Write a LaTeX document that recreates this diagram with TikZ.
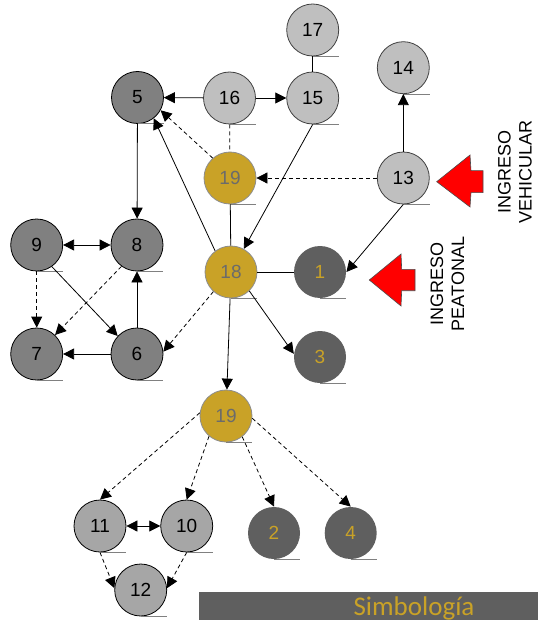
\documentclass[tikz,border=0pt]{standalone}
\usepackage{fontspec}
\setmainfont{Liberation Sans}
\newfontfamily\calibfont{Carlito}
\usetikzlibrary{arrows.meta}
\definecolor{goldc}{HTML}{C9A227}
\definecolor{dkc}{HTML}{5F5F5F}
\definecolor{midc}{HTML}{808080}
\definecolor{ltc}{HTML}{BFBFBF}
\definecolor{lmc}{HTML}{A6A6A6}
\definecolor{gtxt}{HTML}{6B6B6B}
\begin{document}
\begin{tikzpicture}[x=1pt,y=-1pt,
  nd/.style={circle,minimum size=52pt,inner sep=0pt,font=\fontsize{19}{19}\selectfont,line width=0.8pt},
  darkn/.style={nd,fill=midc,draw=black},
  lightn/.style={nd,fill=ltc,draw=black!75},
  goldn/.style={nd,fill=goldc,draw=black!45,text=gtxt},
  deepn/.style={nd,fill=dkc,text=goldc},
  lmidn/.style={nd,fill=lmc,draw=black},
  ar/.style={-{Triangle[length=11pt,width=11pt]},line width=0.8pt},
  dar/.style={ar,dash pattern=on 4pt off 3pt},
  bar/.style={{Triangle[length=11pt,width=11pt]}-{Triangle[length=11pt,width=11pt]},line width=0.8pt},
  ln/.style={line width=0.8pt},
  dln/.style={line width=0.8pt,dash pattern=on 4pt off 3pt},
  ul/.style={draw=black!50,line width=0.8pt},
  redarrow/.style={fill=red,draw=black!70,line width=0.6pt},
  vlabel/.style={rotate=90,align=center,font=\fontsize{18}{21}\selectfont}
]
\useasboundingbox (0,0) rectangle (538,620);

% nodes
\node[darkn]  (n5)  at (137.5,97.5) {5};
\node[lightn] (n16) at (229.5,98) {16};
\node[lightn] (n15) at (312.7,98) {15};
\node[lightn] (n17) at (312.7,30) {17};
\node[lightn] (n14) at (403.3,67.7) {14};
\node[lightn] (n13) at (403.3,178) {13};
\node[goldn]  (n19a) at (230,178) {19};
\node[goldn]  (n18) at (231,272) {18};
\node[deepn]  (n1)  at (320,272) {1};
\node[deepn]  (n3)  at (320,357) {3};
\node[darkn]  (n9)  at (36.7,245) {9};
\node[darkn]  (n8)  at (137,245) {8};
\node[darkn]  (n7)  at (36.7,354) {7};
\node[darkn]  (n6)  at (137,354) {6};
\node[goldn]  (n19b) at (226,416) {19};
\node[lmidn]  (n11) at (100,526) {11};
\node[lmidn]  (n10) at (186.7,526) {10};
\node[deepn]  (n2)  at (274,533) {2};
\node[deepn]  (n4)  at (350.7,533) {4};
\node[lmidn]  (n12) at (140.7,590) {12};

% underlines
\foreach \n in {n5,n16,n15,n17,n14,n13,n19a,n18,n1,n3,n9,n8,n7,n6,n19b,n11,n10,n2,n4,n12}
  \draw[ul] (\n.south) -- (\n.south -| \n.east);

% solid connectors
\draw[ar] (n16) -- (n5);
\draw[ar] (n16) -- (n15);
\draw[ln] (n17) -- (n15);
\draw[ar] (n15.south) -- (n18);
\draw[ar] (n13) -- (n14);
\draw[ar] (n13.south) -- (n1.east);
\draw[ar] (n18.127) -- (n5.-52);
\draw[ln] (n19a) -- (n18);
\draw[ln] (n18) -- (n1);
\draw[ar] (n18.-46) -- (n3.173);
\draw[ar] (n18) -- (n19b);
\draw[ar] (n5) -- (n8);
\draw[bar] (n9) -- (n8);
\draw[ar] (n9.-55) -- (n6.137);
\draw[ar] (n6) -- (n8);
\draw[ar] (n6) -- (n7);
\draw[bar] (n11) -- (n10);

% dashed connectors
\draw[dln] (n16) -- (n19a);
\draw[dar] (n19a.131) -- (n5.-29);
\draw[dar] (n13) -- (n19a);
\draw[dar] (n18.-132) -- (n6.5);
\draw[dar] (n9) -- (n7);
\draw[dar] (n8.-126) -- (n7.46);
\draw[dar] (n19b.173) -- (n11.north);
\draw[dar] (n19b.-130) -- (n10.north);
\draw[dar] (n19b.-52) -- (n2.north);
\draw[dar] (n19b.-5) -- (n4.north);
\draw[dar] (n11.south) -- (n12.176);
\draw[dar] (n10.south) -- (n12.4);

% entry arrows
\draw[redarrow] (436.7,181.7) -- (470,155) -- (471,170.7) -- (483,170.7) -- (483,192.7) -- (471,192.7) -- (470,207) -- cycle;
\draw[redarrow] (369.3,280) -- (401,254) -- (401.7,269.3) -- (415,269.3) -- (415,290.7) -- (401.7,290.7) -- (401,306) -- cycle;
\node[vlabel] (lv) at (515,172) {INGRESO\\VEHICULAR};
\node[vlabel] (lp) at (447.3,284) {INGRESO\\PEATONAL};

% legend bar
\fill[dkc] (198.7,592) rectangle (538,620);
\node[anchor=base,text=goldc,font=\calibfont\fontsize{27}{27}\selectfont,inner sep=0pt] (simb) at (414,615.5) {Simbología};
\end{tikzpicture}
\end{document}
